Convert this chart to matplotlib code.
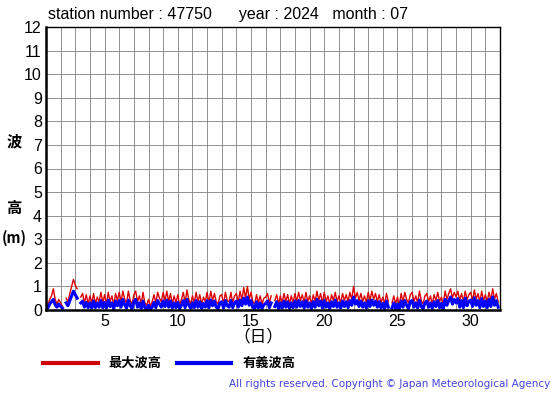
import numpy as np
import matplotlib
matplotlib.use("Agg")
import matplotlib.pyplot as plt
from matplotlib.lines import Line2D

nan = np.nan

# 3-hourly values per day (00,03,...,21h), July 2024, station 47750
max_wave = [
    [.35, .20, .45, .60, .90, .45, .25, .45],
    [.30, .15, nan, .50, .35, .70, 1.0, 1.3],
    [1.05, .90, nan, .55, .70, .30, .65, .25],
    [.60, .30, .70, .25, .55, .35, .75, .30],
    [.65, .25, .75, .35, .60, .20, .70, .40],
    [.75, .35, .80, .45, .30, .80, .40, .25],
    [.65, .80, .35, .60, .25, .75, .30, .20],
    [.45, .15, .35, .65, .30, .75, .50, .35],
    [.75, .40, .80, .35, .70, .25, .60, .30],
    [.65, .20, .45, .75, .30, .85, .45, .25],
    [.60, .30, .75, .35, .65, .25, .55, .35],
    [.75, .30, .80, .40, .70, .35, .25, .60],
    [.65, .25, .75, .40, .35, .75, .30, .60],
    [.70, .35, .80, .40, .95, .50, 1.0, .45],
    [.75, .35, .25, .65, .30, .60, .25, .50],
    [.55, .70, .30, .60, nan, .40, .65, .25],
    [.60, .30, .70, .35, .65, .25, .60, .30],
    [.70, .35, .75, .40, .65, .30, .75, .35],
    [.60, .25, .65, .35, .80, .40, .70, .30],
    [.75, .35, .60, .25, .65, .40, .75, .35],
    [.60, .30, .70, .40, .65, .35, .75, .45],
    [1.0, .50, .75, .40, .70, .35, .60, .30],
    [.75, .40, .80, .45, .70, .35, .65, .30],
    [.55, .25, .70, .35, nan, .30, .60, .25],
    [.55, .20, .70, .35, .75, .45, .30, .65],
    [.75, .35, .60, .30, .80, .40, .25, .60],
    [.70, .35, .60, .25, .65, .40, .75, .35],
    [.55, .25, .80, .45, .70, .90, .50, .75],
    [.55, .80, .40, .70, .35, .80, .45, .65],
    [.75, .40, .85, .45, .70, .35, .80, .40],
    [.65, .35, .75, .40, .90, .45, .70, .35],
]

sig_wave = [
    [.20, .08, .25, .35, .45, .22, .12, .25],
    [.15, .08, nan, .30, .18, .40, .60, .80],
    [.65, .50, nan, .30, .38, .12, .32, .10],
    [.30, .08, .38, .10, .30, .12, .40, .10],
    [.32, .08, .42, .15, .30, .05, .38, .18],
    [.40, .12, .45, .22, .08, .42, .18, .06],
    [.35, .45, .12, .30, .06, .38, .10, .05],
    [.20, .03, .12, .32, .10, .40, .25, .12],
    [.38, .15, .42, .12, .38, .08, .30, .10],
    [.32, .06, .20, .40, .10, .45, .20, .08],
    [.30, .10, .40, .12, .35, .06, .28, .12],
    [.40, .10, .42, .18, .38, .12, .06, .30],
    [.35, .08, .40, .18, .12, .40, .10, .30],
    [.38, .12, .42, .18, .50, .25, .55, .20],
    [.40, .12, .06, .35, .08, .30, .06, .22],
    [.28, .38, .10, .30, nan, .15, .35, .06],
    [.30, .08, .38, .12, .35, .06, .30, .10],
    [.38, .12, .40, .15, .35, .08, .40, .12],
    [.30, .05, .35, .12, .45, .18, .38, .08],
    [.40, .12, .30, .06, .35, .15, .42, .12],
    [.30, .08, .38, .15, .35, .10, .40, .20],
    [.55, .25, .40, .15, .38, .12, .30, .08],
    [.40, .15, .42, .20, .38, .12, .35, .08],
    [.28, .06, .38, .12, nan, .08, .30, .05],
    [.25, .04, .38, .12, .40, .20, .06, .35],
    [.40, .12, .30, .08, .42, .15, .05, .30],
    [.38, .12, .30, .06, .35, .15, .40, .10],
    [.28, .05, .45, .20, .40, .55, .25, .45],
    [.30, .48, .12, .40, .10, .50, .18, .38],
    [.42, .15, .52, .20, .40, .10, .48, .15],
    [.38, .10, .45, .15, .55, .20, .40, .12],
]

hours = [0, 3, 6, 9, 12, 15, 18, 21]
days = list(range(1, 32))
x = np.array([d + h / 24 for d in days for h in hours])
red = np.array(max_wave).ravel()
blue = np.array(sig_wave).ravel()

jp = ['Noto Sans CJK JP', 'DejaVu Sans']
lat = 'Liberation Sans'

fig = plt.figure(figsize=(5.55, 3.95), dpi=100)
ax = fig.add_axes([46 / 555, 1 - 310 / 395, 454 / 555, 283 / 395])

ax.plot(x, red, color='#dd0000', lw=1.0)
ax.plot(x, blue, color='#0000ff', lw=2.2)

ax.set_xlim(1, 32)
ax.set_ylim(0, 12)
ax.set_xticks(range(1, 33), minor=True)
ax.set_xticks([5, 10, 15, 20, 25, 30])
ax.set_yticks(range(0, 13))
ax.grid(True, which='both', color='#808080', lw=0.6)
ax.tick_params(which='both', length=0, labelsize=11.5, pad=3)
for lab in ax.get_xticklabels() + ax.get_yticklabels():
    lab.set_family(lat)
for s in ['left', 'bottom']:
    ax.spines[s].set_linewidth(1.8)
for s in ['top', 'right']:
    ax.spines[s].set_linewidth(1.0)
ax.set_axisbelow(True)

fig.text(48 / 555, 1 - 15 / 395, 'station number : 47750      year : 2024   month : 07',
         family=lat, fontsize=11.5, va='center', ha='left')

fig.text(14 / 555, 1 - 141 / 395, '波', family=jp, fontsize=11, fontweight='bold',
         ha='center', va='center')
fig.text(14 / 555, 1 - 208 / 395, '高', family=jp, fontsize=11, fontweight='bold',
         ha='center', va='center')
fig.text(14 / 555, 1 - 238 / 395, '(m)', family=jp, fontsize=10.5, fontweight='bold',
         ha='center', va='center')
fig.text(258 / 555, 1 - 337 / 395, '（日）', family=jp, fontsize=12,
         ha='center', va='center')

# legend
fig.add_artist(Line2D([43 / 555, 98 / 555], [1 - 363 / 395] * 2, color='#cc0000', lw=3))
fig.text(108 / 555, 1 - 363 / 395, '最大波高', family=jp, fontsize=9.5, fontweight='bold',
         va='center', ha='left')
fig.add_artist(Line2D([177 / 555, 231 / 555], [1 - 363 / 395] * 2, color='#0000ee', lw=3))
fig.text(243 / 555, 1 - 363 / 395, '有義波高', family=jp, fontsize=9.5, fontweight='bold',
         va='center', ha='left')

fig.text(550 / 555, 1 - 384 / 395,
         'All rights reserved. Copyright © Japan Meteorological Agency',
         family='DejaVu Sans', fontsize=7.5, color='#4444dd', ha='right', va='center')

fig.savefig('out.png', dpi=100)
